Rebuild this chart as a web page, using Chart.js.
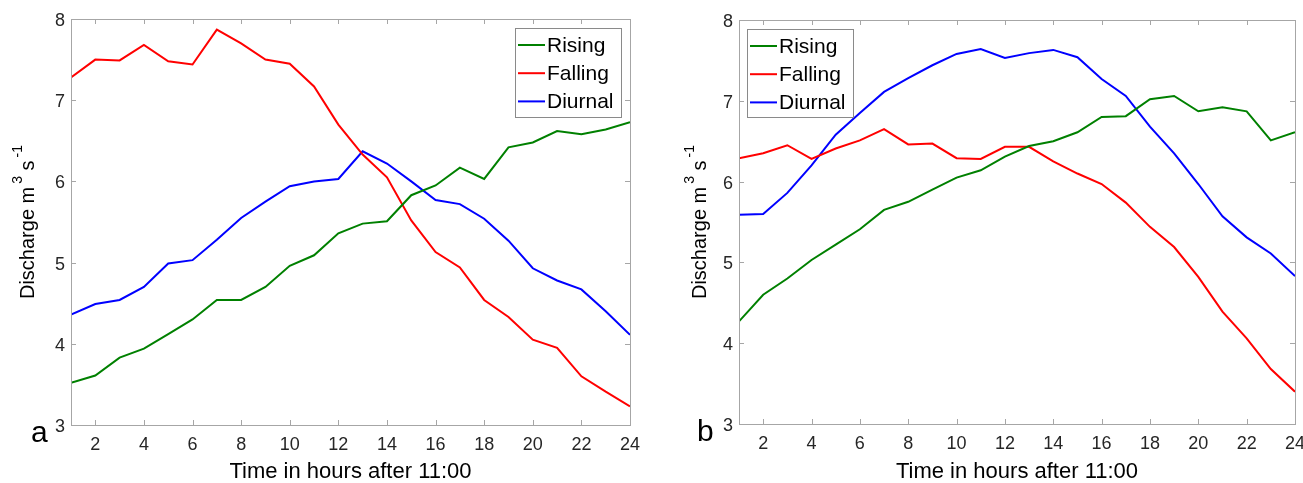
<!DOCTYPE html>
<html>
<head>
<meta charset="utf-8">
<script src="https://cdn.jsdelivr.net/npm/chart.js@4.4.0/dist/chart.umd.min.js"></script>
<style>
  body { margin: 0; background: #fff; width: 1303px; height: 483px; position: relative; overflow: hidden; }
  canvas { position: absolute; top: 0; }
  .panel-label { position: absolute; font-family: "Liberation Sans", Arial, sans-serif; font-size: 30px; line-height: 30px; color: #000; }
</style>
</head>
<body>
<canvas id="chartA" width="650" height="483" style="left:0"></canvas>
<canvas id="chartB" width="653" height="483" style="left:650px"></canvas>
<div class="panel-label" style="left:31px; top:417px">a</div>
<div class="panel-label" style="left:697px; top:416px">b</div>

<script>
// hours after 11:00
const hours = [1, 2, 3, 4, 5, 6, 7, 8, 9, 10, 11, 12, 13, 14, 15, 16, 17, 18, 19, 20, 21, 22, 23, 24];
const xTicks = [2, 4, 6, 8, 10, 12, 14, 16, 18, 20, 22, 24];
const yTicks = [3, 4, 5, 6, 7, 8];
const seriesNames = ["Rising", "Falling", "Diurnal"];

// panel a
const risingA = [3.52, 3.61, 3.83, 3.94, 4.12, 4.30, 4.54, 4.54, 4.70, 4.96, 5.09, 5.36,
  5.48, 5.51, 5.83, 5.95, 6.17, 6.03, 6.42, 6.48, 6.62, 6.58, 6.64, 6.73];
const fallingA = [7.28, 7.50, 7.49, 7.68, 7.48, 7.44, 7.87, 7.70, 7.50, 7.45, 7.17, 6.70,
  6.33, 6.05, 5.52, 5.13, 4.94, 4.54, 4.33, 4.05, 3.95, 3.60, 3.41, 3.23];
const diurnalA = [4.36, 4.49, 4.54, 4.70, 4.99, 5.03, 5.28, 5.55, 5.75, 5.94, 6.00, 6.03,
  6.37, 6.22, 6.00, 5.77, 5.72, 5.54, 5.27, 4.93, 4.78, 4.67, 4.40, 4.11];

// panel b
const risingB = [4.27, 4.60, 4.80, 5.03, 5.22, 5.41, 5.65, 5.75, 5.90, 6.05, 6.14, 6.31,
  6.44, 6.50, 6.61, 6.80, 6.81, 7.02, 7.06, 6.87, 6.92, 6.87, 6.51, 6.61];
const fallingB = [6.29, 6.35, 6.45, 6.28, 6.41, 6.51, 6.65, 6.46, 6.47, 6.29, 6.28, 6.43,
  6.43, 6.25, 6.10, 5.97, 5.74, 5.44, 5.19, 4.82, 4.39, 4.06, 3.68, 3.40];
const diurnalB = [5.59, 5.60, 5.86, 6.20, 6.58, 6.85, 7.11, 7.28, 7.44, 7.58, 7.64, 7.53,
  7.59, 7.63, 7.54, 7.27, 7.06, 6.68, 6.35, 5.97, 5.57, 5.31, 5.11, 4.83];

const colors = ["#008000", "#ff0000", "#0000ff"];
const FONT = '"Liberation Sans", Arial, sans-serif';

// y label with raised exponents: [text, size, raise, gapBefore]
const yLabelParts = [
  ["Discharge m", 20, 0, 0],
  ["3", 14, 12, 3],
  [" s", 20, 0, 0],
  ["-1", 14, 12, 3],
];

// matlab-like box with inward ticks on all four sides
const boxPlugin = {
  id: "matlabBox",
  afterDatasetsDraw(chart) {
    const { ctx, chartArea: a, scales } = chart;
    const len = 5;
    ctx.save();
    ctx.strokeStyle = "#a6a6a6";
    ctx.lineWidth = 1;
    ctx.beginPath();
    scales.x.ticks.forEach((t) => {
      const px = Math.round(scales.x.getPixelForValue(t.value)) + 0.5;
      ctx.moveTo(px, a.bottom); ctx.lineTo(px, a.bottom - len);
      ctx.moveTo(px, a.top); ctx.lineTo(px, a.top + len);
    });
    scales.y.ticks.forEach((t) => {
      const py = Math.round(scales.y.getPixelForValue(t.value)) + 0.5;
      ctx.moveTo(a.left, py); ctx.lineTo(a.left + len, py);
      ctx.moveTo(a.right, py); ctx.lineTo(a.right - len, py);
    });
    ctx.stroke();
    ctx.strokeRect(Math.round(a.left) + 0.5, Math.round(a.top) + 0.5,
      Math.round(a.right - a.left), Math.round(a.bottom - a.top));
    ctx.restore();
  },
};

// rotated y-axis title with superscripts
const yLabel = {
  id: "yLabel",
  afterDraw(chart, args, opts) {
    const { ctx, chartArea: a } = chart;
    ctx.save();
    let total = 0;
    const widths = yLabelParts.map(([t, size, , gap]) => {
      ctx.font = size + "px " + FONT;
      const w = ctx.measureText(t).width;
      total += w + gap;
      return w;
    });
    ctx.translate(opts.baseline, (a.top + a.bottom) / 2);
    ctx.rotate(-Math.PI / 2);
    ctx.fillStyle = "#000";
    ctx.textBaseline = "alphabetic";
    let pos = -total / 2;
    yLabelParts.forEach(([t, size, raise, gap], i) => {
      pos += gap;
      ctx.font = size + "px " + FONT;
      ctx.fillText(t, pos, -raise);
      pos += widths[i];
    });
    ctx.restore();
  },
};

// legend drawn inside the plot area
const boxLegend = {
  id: "boxLegend",
  afterDraw(chart, args, opts) {
    const { ctx } = chart;
    ctx.save();
    ctx.fillStyle = "#fff";
    ctx.fillRect(opts.left, opts.top, opts.width, opts.height);
    ctx.strokeStyle = "#8a8a8a";
    ctx.lineWidth = 1;
    ctx.strokeRect(Math.round(opts.left) + 0.5, Math.round(opts.top) + 0.5, opts.width, opts.height);
    ctx.font = "21px " + FONT;
    ctx.textBaseline = "middle";
    ctx.fillStyle = "#000";
    chart.data.datasets.forEach((ds, i) => {
      const y = opts.top + 17 + i * 28.2;
      ctx.strokeStyle = ds.borderColor;
      ctx.lineWidth = 2;
      ctx.beginPath();
      ctx.moveTo(opts.left + 3, y);
      ctx.lineTo(opts.left + 30, y);
      ctx.stroke();
      ctx.fillText(ds.label, opts.left + 32, y + 1);
    });
    ctx.restore();
  },
};

function makeChart(id, series, cfg) {
  return new Chart(document.getElementById(id), {
    type: "line",
    data: {
      datasets: series.map((vals, i) => ({
        label: seriesNames[i],
        data: hours.map((h, j) => ({ x: h, y: vals[j] })),
        borderColor: colors[i],
        backgroundColor: colors[i],
        borderWidth: 2,
        pointRadius: 0,
        tension: 0,
        fill: false,
      })),
    },
    options: {
      responsive: false,
      animation: false,
      devicePixelRatio: 1,
      layout: { padding: { left: 0, top: cfg.top, right: cfg.right, bottom: 0 } },
      plugins: {
        legend: { display: false },
        tooltip: { enabled: false },
        boxLegend: cfg.legend,
        yLabel: { baseline: cfg.yTitleBase },
      },
      scales: {
        x: {
          type: "linear",
          min: 1,
          max: 24,
          afterBuildTicks: (s) => { s.ticks = xTicks.map((v) => ({ value: v })); },
          afterFit: (s) => { s.height = cfg.xHeight; s.paddingLeft = 0; s.paddingRight = 0; },
          grid: { display: false, drawTicks: false },
          border: { display: false },
          ticks: { padding: 9, color: "#262626", font: { family: FONT, size: 18 } },
          title: {
            display: true,
            text: "Time in hours after 11:00",
            color: "#000",
            padding: 0,
            font: { family: FONT, size: 22, lineHeight: 1 },
          },
        },
        y: {
          min: 3,
          max: 8,
          afterBuildTicks: (s) => { s.ticks = yTicks.map((v) => ({ value: v })); },
          afterFit: (s) => { s.width = cfg.yWidth; s.paddingTop = 0; s.paddingBottom = 0; },
          grid: { display: false, drawTicks: false },
          border: { display: false },
          ticks: { padding: 6, labelOffset: 2, color: "#262626", font: { family: FONT, size: 18 } },
          title: { display: false },
        },
      },
    },
    plugins: [boxPlugin, boxLegend, yLabel],
  });
}

makeChart("chartA", [risingA, fallingA, diurnalA], {
  top: 19, right: 20, xHeight: 58, yWidth: 71, yTitleBase: 34,
  legend: { left: 515, top: 28, width: 106, height: 89 },
});

makeChart("chartB", [risingB, fallingB, diurnalB], {
  top: 20, right: 8, xHeight: 59, yWidth: 89, yTitleBase: 56,
  legend: { left: 97, top: 29, width: 106, height: 88 },
});
</script>
</body>
</html>
